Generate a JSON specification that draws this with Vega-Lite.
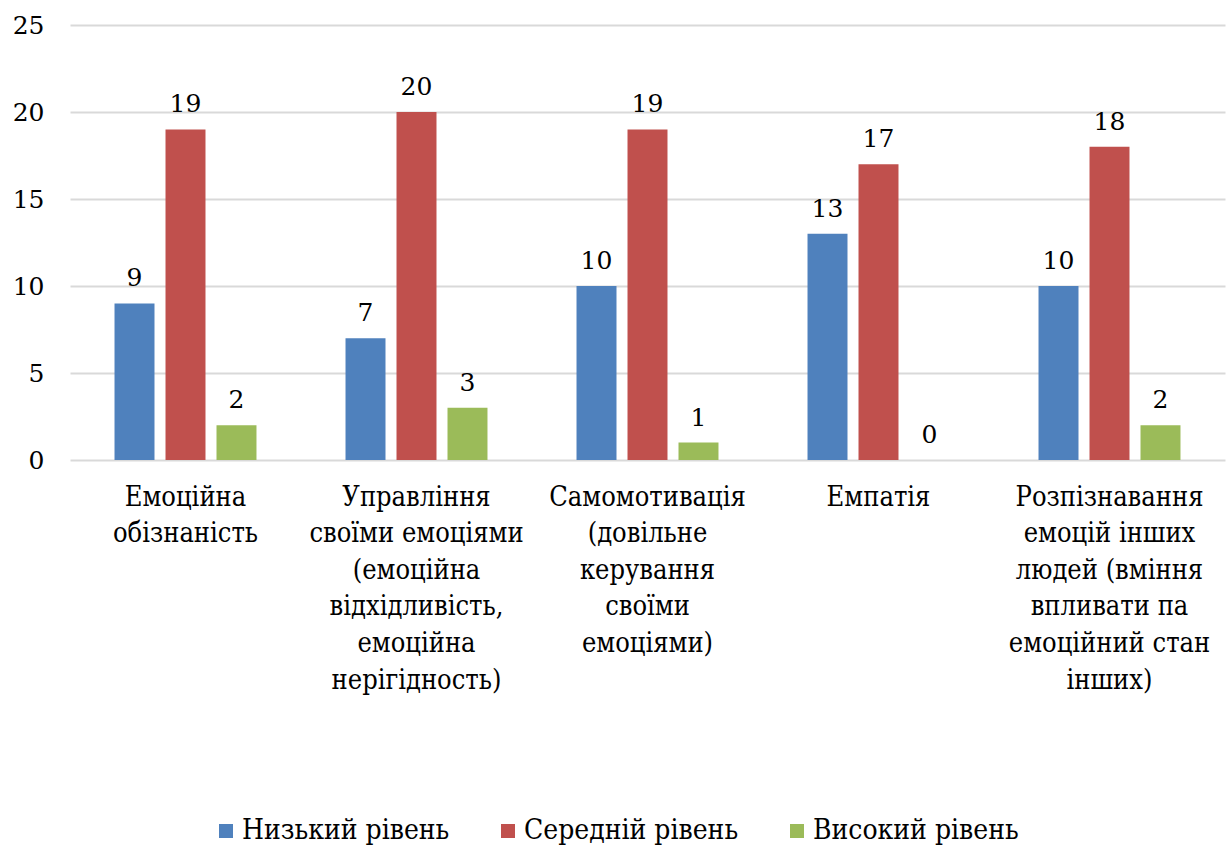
{
  "$schema": "https://vega.github.io/schema/vega-lite/v6.json",
  "width": 1155,
  "height": 435,
  "autosize": {"type": "none"},
  "padding": {"left": 70, "top": 25, "right": 4, "bottom": 387},
  "background": "white",
  "config": {
    "view": {"stroke": null}
  },
  "data": {
    "values": [
      {"category": "Емоційна|обізнаність", "order": 1, "level": "Низький рівень", "lorder": 1, "value": 9},
      {"category": "Емоційна|обізнаність", "order": 1, "level": "Середній рівень", "lorder": 2, "value": 19},
      {"category": "Емоційна|обізнаність", "order": 1, "level": "Високий рівень", "lorder": 3, "value": 2},
      {"category": "Управління|своїми емоціями|(емоційна|відхідливість,|емоційна|нерігідность)", "order": 2, "level": "Низький рівень", "lorder": 1, "value": 7},
      {"category": "Управління|своїми емоціями|(емоційна|відхідливість,|емоційна|нерігідность)", "order": 2, "level": "Середній рівень", "lorder": 2, "value": 20},
      {"category": "Управління|своїми емоціями|(емоційна|відхідливість,|емоційна|нерігідность)", "order": 2, "level": "Високий рівень", "lorder": 3, "value": 3},
      {"category": "Самомотивація|(довільне|керування|своїми|емоціями)", "order": 3, "level": "Низький рівень", "lorder": 1, "value": 10},
      {"category": "Самомотивація|(довільне|керування|своїми|емоціями)", "order": 3, "level": "Середній рівень", "lorder": 2, "value": 19},
      {"category": "Самомотивація|(довільне|керування|своїми|емоціями)", "order": 3, "level": "Високий рівень", "lorder": 3, "value": 1},
      {"category": "Емпатія", "order": 4, "level": "Низький рівень", "lorder": 1, "value": 13},
      {"category": "Емпатія", "order": 4, "level": "Середній рівень", "lorder": 2, "value": 17},
      {"category": "Емпатія", "order": 4, "level": "Високий рівень", "lorder": 3, "value": 0},
      {"category": "Розпізнавання|емоцій інших|людей (вміння|впливати па|емоційний стан|інших)", "order": 5, "level": "Низький рівень", "lorder": 1, "value": 10},
      {"category": "Розпізнавання|емоцій інших|людей (вміння|впливати па|емоційний стан|інших)", "order": 5, "level": "Середній рівень", "lorder": 2, "value": 18},
      {"category": "Розпізнавання|емоцій інших|людей (вміння|впливати па|емоційний стан|інших)", "order": 5, "level": "Високий рівень", "lorder": 3, "value": 2}
    ]
  },
  "encoding": {
    "x": {
      "field": "category",
      "type": "nominal",
      "sort": {"field": "order"},
      "scale": {"paddingInner": 0, "paddingOuter": 0},
      "axis": {
        "title": null,
        "labelAngle": 0,
        "labelExpr": "split(datum.label, '|')",
        "labelFont": "DejaVu Serif Condensed",
        "labelFontSize": 27,
        "labelColor": "#000000",
        "labelLineHeight": 36.6,
        "labelBaseline": "top",
        "labelPadding": 24,
        "labelLimit": 0,
        "ticks": false,
        "domain": false,
        "grid": false
      }
    },
    "xOffset": {
      "field": "level",
      "type": "nominal",
      "sort": {"field": "lorder"},
      "scale": {"paddingInner": 0.216, "paddingOuter": 0.873}
    },
    "y": {
      "field": "value",
      "type": "quantitative",
      "scale": {"domain": [0, 25], "nice": false},
      "axis": {
        "title": null,
        "values": [0, 5, 10, 15, 20, 25],
        "labelFont": "DejaVu Serif",
        "labelFontSize": 25,
        "labelColor": "#000000",
        "labelPadding": 26,
        "ticks": false,
        "domain": false,
        "gridColor": "#D9D9D9",
        "gridWidth": 2
      }
    }
  },
  "layer": [
    {
      "mark": {"type": "bar"},
      "encoding": {
        "color": {
          "field": "level",
          "type": "nominal",
          "sort": {"field": "lorder"},
          "scale": {
            "domain": ["Низький рівень", "Середній рівень", "Високий рівень"],
            "range": ["#4F81BD", "#C0504D", "#9BBB59"]
          },
          "legend": {
            "title": null,
            "orient": "none",
            "direction": "horizontal",
            "legendX": 142,
            "legendY": 792,
            "symbolType": "square",
            "symbolSize": 196,
            "symbolStrokeWidth": 0,
            "labelFont": "DejaVu Serif Condensed",
            "labelFontSize": 28,
            "labelColor": "#000000",
            "labelOffset": 2,
            "columnPadding": 44,
            "labelLimit": 0
          }
        }
      }
    },
    {
      "mark": {"type": "text", "baseline": "alphabetic", "dy": -17, "fontSize": 25, "font": "DejaVu Serif", "color": "#000000"},
      "encoding": {
        "text": {"field": "value", "type": "quantitative"}
      }
    }
  ]
}
